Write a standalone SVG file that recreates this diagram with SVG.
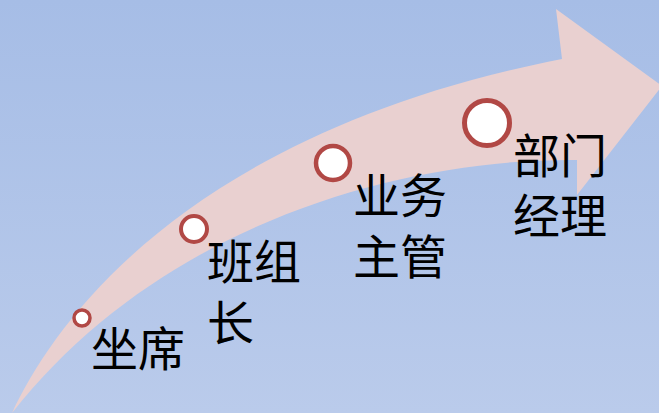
<svg xmlns="http://www.w3.org/2000/svg" width="659" height="413" viewBox="0 0 659 413">
<style>
.node circle{fill:#ffffff;stroke:#b14845}
.node text{font-family:"Liberation Sans","Noto Sans CJK SC","Noto Sans CJK JP",sans-serif;font-size:47px;fill:#000000}
</style>
<defs>
<linearGradient id="bg" x1="0" y1="0" x2="0" y2="1">
<stop offset="0" stop-color="#a6bde6"/>
<stop offset="1" stop-color="#bacbeb"/>
</linearGradient>
</defs>
<rect width="659" height="413" fill="url(#bg)"/>
<g id="connectors">
<path id="arrow" d="M12,413 C60,310 200,130 562,59 L556,9 L662,86 L577,195 L577,160 C400,158 160,225 12,413 Z" fill="#e9d0d0"/>
</g>
<g id="node-zuoxi" class="node">
<circle cx="82" cy="318" r="8" stroke-width="3.5"/>
<text x="91" y="366">坐席</text>
</g>
<g id="node-banzuzhang" class="node">
<circle cx="194" cy="229" r="13" stroke-width="4"/>
<text x="207" y="279">班组</text>
<text x="207" y="340">长</text>
</g>
<g id="node-yewuzhuguan" class="node">
<circle cx="333" cy="163" r="17" stroke-width="4.5"/>
<text x="353" y="213">业务</text>
<text x="353" y="274">主管</text>
</g>
<g id="node-bumenjingli" class="node">
<circle cx="487" cy="123" r="22.5" stroke-width="5"/>
<text x="513" y="173">部门</text>
<text x="513" y="233">经理</text>
</g>
</svg>
